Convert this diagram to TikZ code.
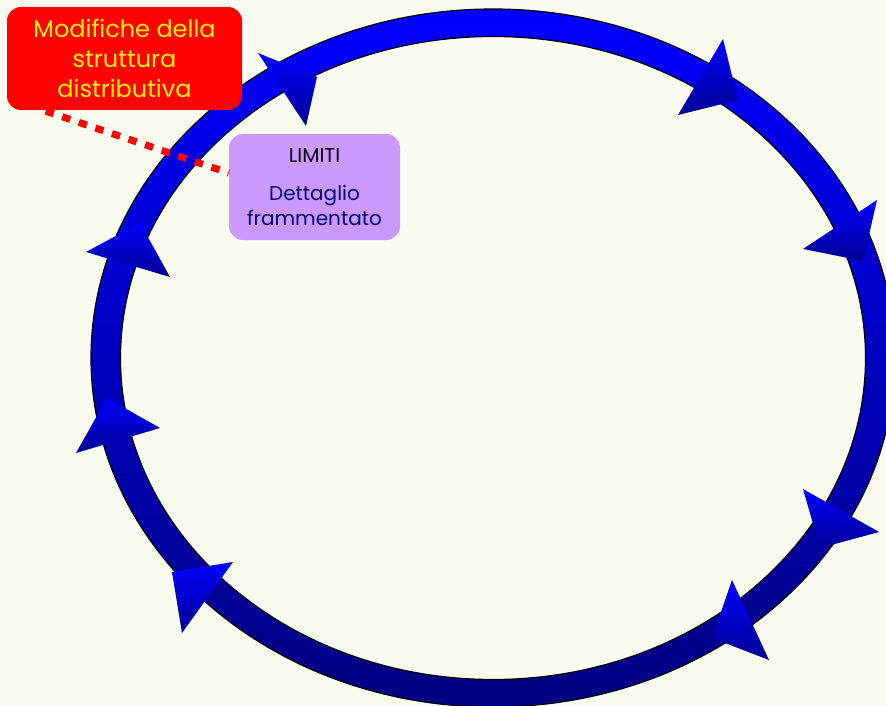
\documentclass[tikz,border=0pt]{standalone}
\usepackage{fontspec}
\setmainfont{Poppins}
\usepackage{tikz}
\definecolor{paper}{RGB}{250,252,240}
\definecolor{navyring}{RGB}{0,0,128}
\definecolor{lilac}{RGB}{204,153,255}
\tikzset{
  arrowtip/.style={top color=blue,bottom color=navyring!85!blue},
  notebox/.style={rounded corners=14pt,align=center,inner sep=0pt},
}

\begin{document}
\begin{tikzpicture}[x=1pt,y=-1pt]
		\fill[paper] (0,0) rectangle (886,706);
		\useasboundingbox (0,0) rectangle (886,706);
		% the ring
		\shade[top color=blue,bottom color=navyring,even odd rule] (493,358) ellipse (402 and 349) (493,358) ellipse (372.5 and 321.5);
		\draw[black,line width=1.2pt] (493,358) ellipse (402 and 349) (493,358) ellipse (372.5 and 321.5);
		%% the arrow heads, clockwise
		\shade[arrowtip] (258,53) -- (317,77) -- (306,126) -- cycle;
		\shade[arrowtip] (723,39) -- (738,100) -- (678,115) -- cycle;
		\shade[arrowtip] (877,200) -- (863,261) -- (803,249) -- cycle;
		\shade[arrowtip] (803,489) -- (879,532) -- (820,548) -- cycle;
		\shade[arrowtip] (732,580) -- (769,660) -- (712,638) -- cycle;
		\shade[arrowtip] (172,572) -- (233,562) -- (182,633) -- cycle;
		\shade[arrowtip] (107,398) -- (160,428) -- (76,453) -- cycle;
		\shade[arrowtip] (140,223) -- (170,277) -- (86,252) -- cycle;
		%% the labels
		\node[notebox,fill=red,text=yellow,minimum width=235pt,minimum height=103pt,font=\fontsize{24}{30}\selectfont] (changes) at (124.5,58.5) {Modifiche della\\struttura\\distributiva};
		\node[notebox,fill=lilac,minimum width=171pt,minimum height=106pt,font=\fontsize{20}{25}\selectfont] (limits) at (314.5,187) {LIMITI\\[13pt]\color{navyring}Dettaglio\\\color{navyring}frammentato};
		\draw[red,line width=7pt,dash pattern=on 8.5pt off 9pt,shorten <=3pt] ([xshift=36pt]changes.south west) -- ([yshift=14pt]limits.west);
		\end{tikzpicture}
\end{document}
